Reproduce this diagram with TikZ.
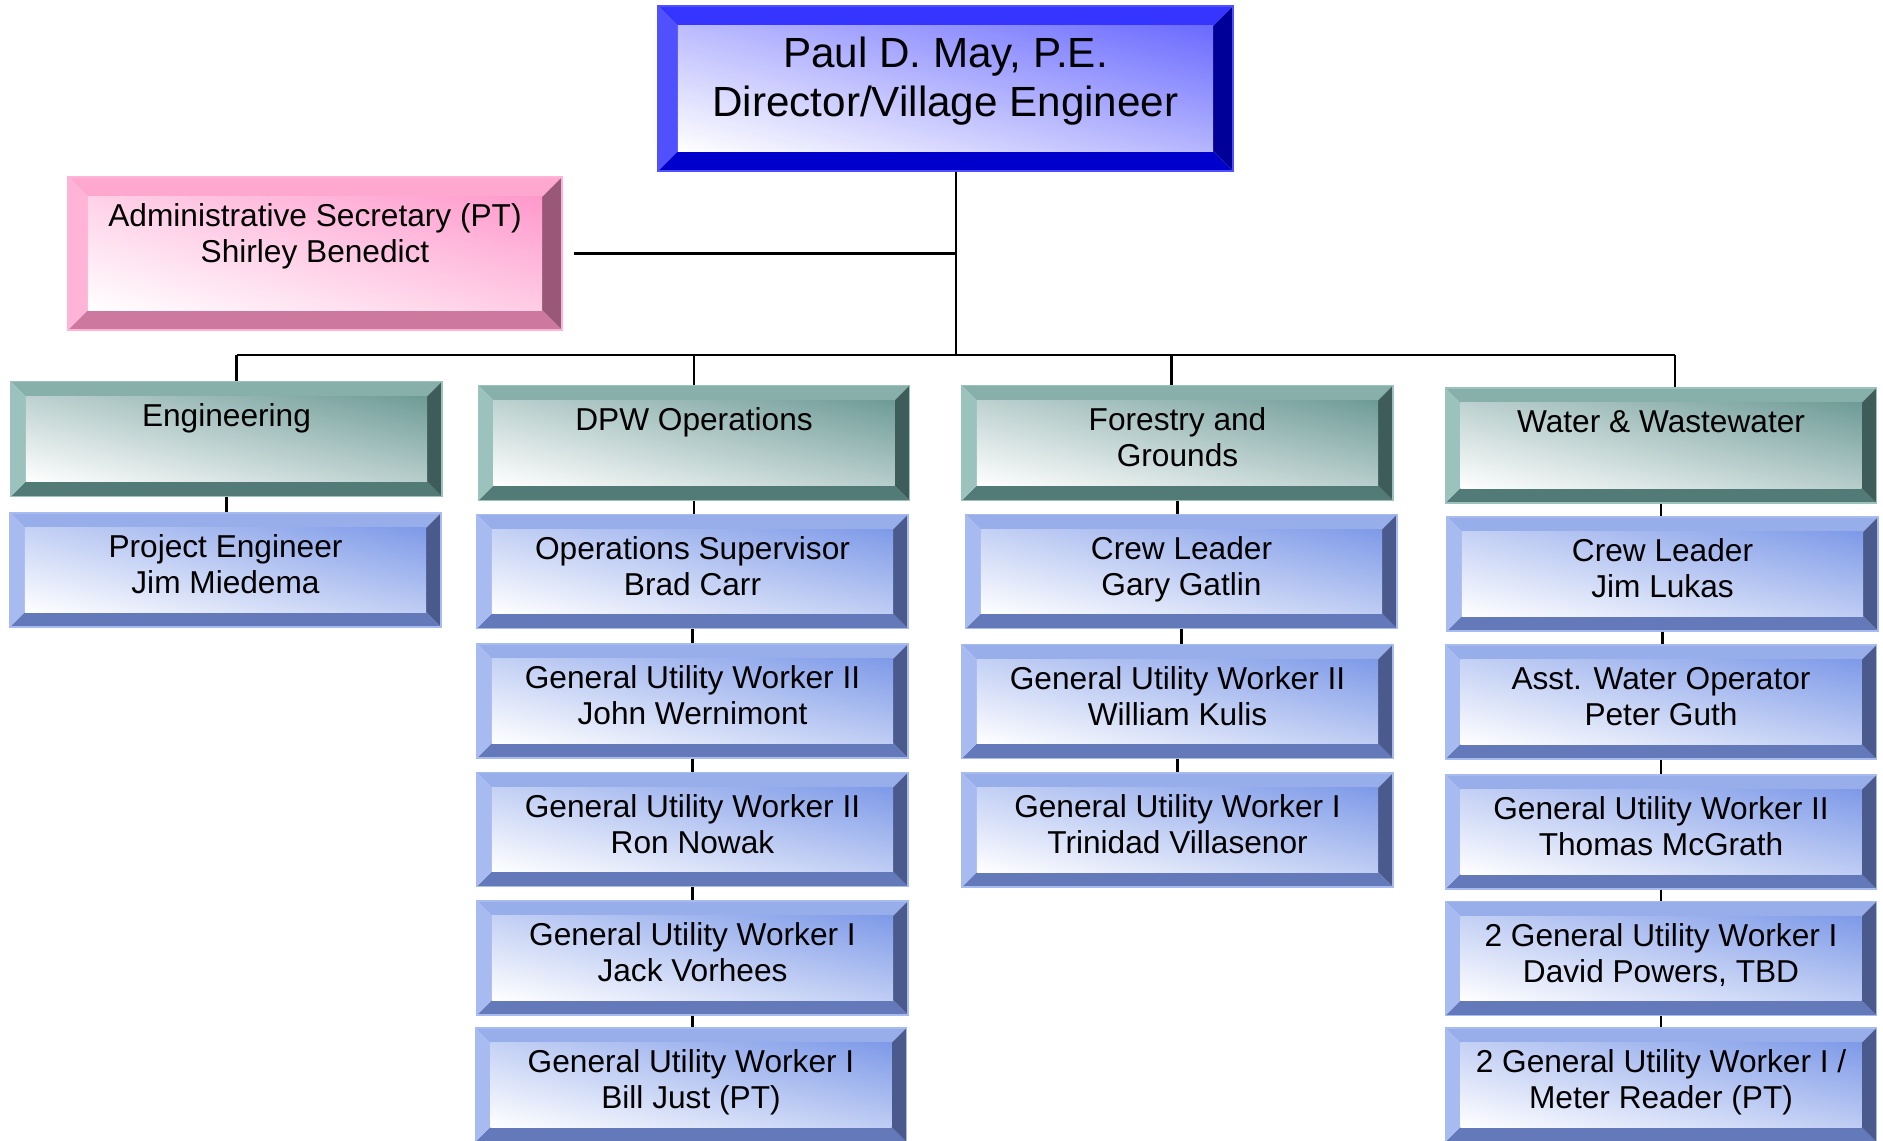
\documentclass[tikz,border=0pt]{standalone}
\usepackage{fontspec}
\setmainfont{Liberation Sans}
\usepackage{xcolor}
\usetikzlibrary{calc, shadings}

% bevel palettes
\definecolor{dirTop}{HTML}{3535FF}
\definecolor{dirLeft}{HTML}{5050FF}
\definecolor{dirBot}{HTML}{0000CC}
\definecolor{dirRight}{HTML}{000099}
\definecolor{dirFace}{HTML}{6A6AFF}
\definecolor{secTop}{HTML}{FFA8CF}
\definecolor{secLeft}{HTML}{FFB3D6}
\definecolor{secBot}{HTML}{CC789F}
\definecolor{secRight}{HTML}{995878}
\definecolor{secFace}{HTML}{FF99CC}
\definecolor{depTop}{HTML}{87B0AB}
\definecolor{depLeft}{HTML}{9CC2BE}
\definecolor{depBot}{HTML}{527B78}
\definecolor{depRight}{HTML}{3E5D5A}
\definecolor{depFace}{HTML}{6E9B97}
\definecolor{stfTop}{HTML}{97AEEB}
\definecolor{stfLeft}{HTML}{A8BBF0}
\definecolor{stfBot}{HTML}{6479BA}
\definecolor{stfRight}{HTML}{4A5A8C}
\definecolor{stfFace}{HTML}{7E9AE8}

\def\bvw{0.15cm}

\begin{document}
\begin{tikzpicture}[x=0.01cm, y=-0.01cm,
        bevel/.style n args={5}{rectangle, inner sep=0pt, align=center,
                draw=#2, line width=0.4pt,
                path picture={
                        \fill[#1] (path picture bounding box.north west) -- (path picture bounding box.north east)
                            -- ([shift={(-\bvw,-\bvw)}]path picture bounding box.north east)
                            -- ([shift={(\bvw,-\bvw)}]path picture bounding box.north west) -- cycle;
                        \fill[#3] (path picture bounding box.south west) -- (path picture bounding box.south east)
                            -- ([shift={(-\bvw,\bvw)}]path picture bounding box.south east)
                            -- ([shift={(\bvw,\bvw)}]path picture bounding box.south west) -- cycle;
                        \fill[#2] (path picture bounding box.south west) -- (path picture bounding box.north west)
                            -- ([shift={(\bvw,-\bvw)}]path picture bounding box.north west)
                            -- ([shift={(\bvw,\bvw)}]path picture bounding box.south west) -- cycle;
                        \fill[#4] (path picture bounding box.south east) -- (path picture bounding box.north east)
                            -- ([shift={(-\bvw,-\bvw)}]path picture bounding box.north east)
                            -- ([shift={(-\bvw,\bvw)}]path picture bounding box.south east) -- cycle;
                        \shade[upper right=#5, lower left=white, upper left=#5!45!white, lower right=#5!50!white]
                            ([shift={(\bvw,\bvw)}]path picture bounding box.south west)
                            rectangle ([shift={(-\bvw,-\bvw)}]path picture bounding box.north east);
                    }},
        wide bevel/.code={\def\bvw{0.2cm}},
        head/.style={bevel={dirTop}{dirLeft}{dirBot}{dirRight}{dirFace}, wide bevel, text depth=6.6pt,
                minimum width=5.75cm, minimum height=1.65cm, font=\fontsize{12}{13.9}\selectfont},
        sec/.style={bevel={secTop}{secLeft}{secBot}{secRight}{secFace}, wide bevel, text depth=1.4pt,
                minimum width=4.94cm, minimum height=1.53cm, font=\fontsize{9}{10.25}\selectfont},
        dept/.style={bevel={depTop}{depLeft}{depBot}{depRight}{depFace}, text depth=3.2pt,
                minimum width=4.31cm, minimum height=1.15cm, font=\fontsize{9}{10.25}\selectfont},
        staff/.style={bevel={stfTop}{stfLeft}{stfBot}{stfRight}{stfFace}, text depth=3.2pt,
                minimum width=4.31cm, minimum height=1.14cm, font=\fontsize{9}{10.25}\selectfont},
        link/.style={draw, line width=0.6pt}
        ]
        \useasboundingbox (0,0) rectangle (1883,1140);

        \node[head] (dir) at (945.5, 88.5) {Paul D. May, P.E.\\Director/Village Engineer};
        \node[sec]  (sec) at (315, 253.5)  {Administrative Secretary (PT)\\Shirley Benedict\\\mbox{}};

        % departments
        \node[dept] (eng) at (226.5, 439)   {Engineering\\\mbox{}};
        \node[dept] (dpw) at (694, 443)     {DPW Operations\\\mbox{}};
        \node[dept] (fst) at (1177.5, 443)  {Forestry and\\Grounds};
        \node[dept] (wat) at (1661, 445.5)  {Water \& Wastewater\\\mbox{}};

        % Engineering
        \node[staff] (pe)   at (225.5, 570)  {Project Engineer\\Jim Miedema};
        % DPW Operations
        \node[staff] (ops)  at (692.5, 571.5) {Operations Supervisor\\Brad Carr};
        \node[staff] (wern) at (692.5, 701)   {General Utility Worker II\\John Wernimont};
        \node[staff] (now)  at (692.5, 829.5) {General Utility Worker II\\Ron Nowak};
        \node[staff] (vor)  at (692.5, 958)   {General Utility Worker I\\Jack Vorhees};
        \node[staff] (just) at (691, 1085)    {General Utility Worker I\\Bill Just (PT)};
        % Forestry and Grounds
        \node[staff] (gat)  at (1181.5, 571.5) {Crew Leader\\Gary Gatlin};
        \node[staff] (kul)  at (1177.5, 701.5) {General Utility Worker II\\William Kulis};
        \node[staff] (vil)  at (1177.5, 830)   {General Utility Worker I\\Trinidad Villasenor};
        % Water & Wastewater
        \node[staff] (luk)  at (1662.5, 574)  {Crew Leader\\Jim Lukas};
        \node[staff] (gut)  at (1661, 702)    {Asst. Water Operator\\Peter Guth};
        \node[staff] (mcg)  at (1661, 832)    {General Utility Worker II\\Thomas McGrath};
        \node[staff] (pow)  at (1661, 958.5)  {2 General Utility Worker I\\David Powers, TBD};
        \node[staff] (met)  at (1661, 1085)   {2 General Utility Worker I /\\Meter Reader (PT)};

        % trunk and bus
        \coordinate (bus) at (956, 355);
        \draw[link] (dir.south -| bus) -- (bus);
        \draw[link] ([xshift=0.11cm]sec.east) -- (sec.east -| bus);
        \coordinate (engtap) at ([xshift=0.1cm]eng.north);
        \coordinate (wattap) at ([xshift=0.14cm]wat.north);
        \draw[link] (engtap |- bus) -- (wattap |- bus);
        \foreach \d/\dx in {eng/0.1, dpw/0, fst/-0.06, wat/0.14} {
                \draw[link] ([xshift=\dx cm]\d.north) coordinate (t) -- (t |- bus);
            }
        % chains
        \foreach \a/\b in {eng/pe, dpw/ops, ops/wern, wern/now, now/vor, vor/just,
                fst/gat, gat/kul, kul/vil, wat/luk, luk/gut, gut/mcg, mcg/pow, pow/met} {
                \draw[link] (\a.south) -- (\a.south |- \b.north);
            }
    \end{tikzpicture}
\end{document}
